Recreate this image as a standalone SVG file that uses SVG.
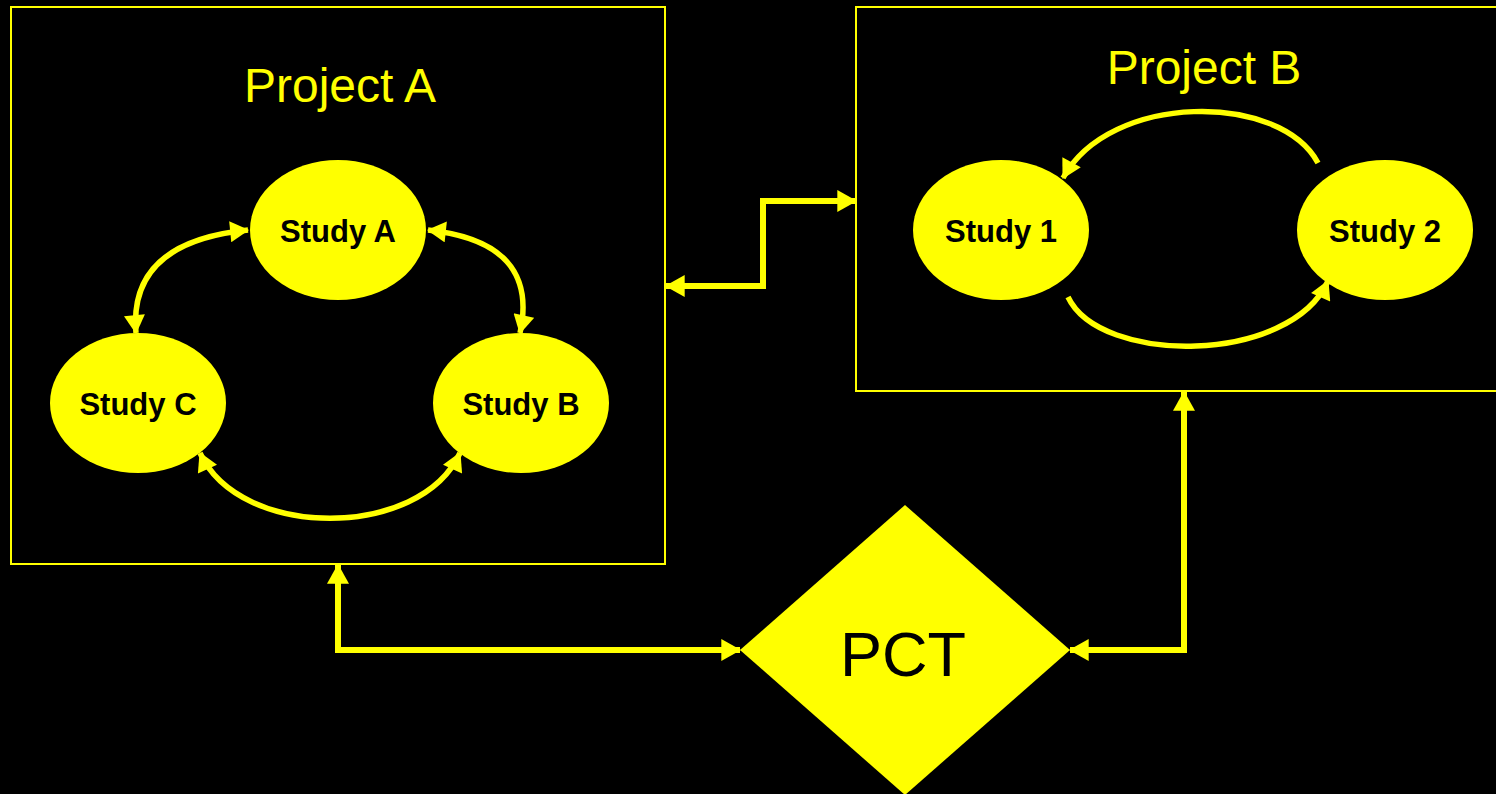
<svg xmlns="http://www.w3.org/2000/svg" width="1496" height="794" viewBox="0 0 1496 794">
  <defs>
    <marker id="ah" viewBox="0 0 18 20" refX="17" refY="10" markerWidth="20" markerHeight="22" markerUnits="userSpaceOnUse" orient="auto-start-reverse">
      <path d="M0,0 L18,10 L0,20 Z" fill="#ffff00"/>
    </marker>
    <marker id="ahs" viewBox="0 0 18 20" refX="17" refY="10" markerWidth="20" markerHeight="21" markerUnits="userSpaceOnUse" orient="auto-start-reverse">
      <path d="M0,0 L18,10 L0,20 Z" fill="#ffff00"/>
    </marker>
  </defs>
  <style>
    .box { fill: none; stroke: #ffff00; stroke-width: 2; }
    .title { font-family: "Liberation Sans", Arial, sans-serif; font-size: 48px; fill: #ffff00; text-anchor: middle; }
    .study { fill: #ffff00; }
    .slabel { font-family: "Liberation Sans", Arial, sans-serif; font-size: 31px; font-weight: bold; fill: #000; text-anchor: middle; }
    .conn { fill: none; stroke: #ffff00; stroke-width: 6; }
    .arc { fill: none; stroke: #ffff00; stroke-width: 5.5; }
  </style>
  <rect width="1496" height="794" fill="#000"/>

  <g id="projectA">
    <rect class="box" x="11" y="7" width="654" height="557"/>
    <text class="title" x="340" y="102">Project A</text>
  </g>
  <g id="projectB">
    <rect class="box" x="856" y="7" width="660" height="384"/>
    <text class="title" x="1204" y="84">Project B</text>
  </g>

  <g id="studyA">
    <ellipse class="study" cx="338" cy="230" rx="88" ry="70"/>
    <text class="slabel" x="338" y="242">Study A</text>
  </g>
  <g id="studyC">
    <ellipse class="study" cx="138" cy="403" rx="88" ry="70"/>
    <text class="slabel" x="138" y="415">Study C</text>
  </g>
  <g id="studyB">
    <ellipse class="study" cx="521" cy="403" rx="88" ry="70"/>
    <text class="slabel" x="521" y="415">Study B</text>
  </g>
  <g id="study1">
    <ellipse class="study" cx="1001" cy="230" rx="88" ry="70"/>
    <text class="slabel" x="1001" y="242">Study 1</text>
  </g>
  <g id="study2">
    <ellipse class="study" cx="1385" cy="230" rx="88" ry="70"/>
    <text class="slabel" x="1385" y="242">Study 2</text>
  </g>
  <g id="pct">
    <polygon points="905,505 1070,650 905,795 740,650" fill="#ffff00"/>
    <text x="903" y="676" font-family="Liberation Sans, Arial, sans-serif" font-size="63" fill="#000" text-anchor="middle">PCT</text>
  </g>

  <g id="connectors">
    <path class="arc" d="M248,230 Q128,242 136,333" marker-start="url(#ahs)" marker-end="url(#ahs)"/>
    <path class="arc" d="M428,230 Q540,242 520,333" marker-start="url(#ahs)" marker-end="url(#ahs)"/>
    <path class="arc" d="M200,453 C240,540 420,540 460,453" marker-start="url(#ahs)" marker-end="url(#ahs)"/>
    <path class="arc" d="M1318,163 C1280,92 1110,92 1063,178" marker-end="url(#ahs)"/>
    <path class="arc" d="M1068,297 C1100,365 1290,365 1328,281" marker-end="url(#ahs)"/>
    <path class="conn" d="M666,286 L763,286 L763,201 L856,201" marker-start="url(#ah)" marker-end="url(#ah)"/>
    <path class="conn" d="M338,565 L338,650 L740,650" marker-start="url(#ah)" marker-end="url(#ah)"/>
    <path class="conn" d="M1070,650 L1184,650 L1184,392" marker-start="url(#ah)" marker-end="url(#ah)"/>
  </g>
</svg>
